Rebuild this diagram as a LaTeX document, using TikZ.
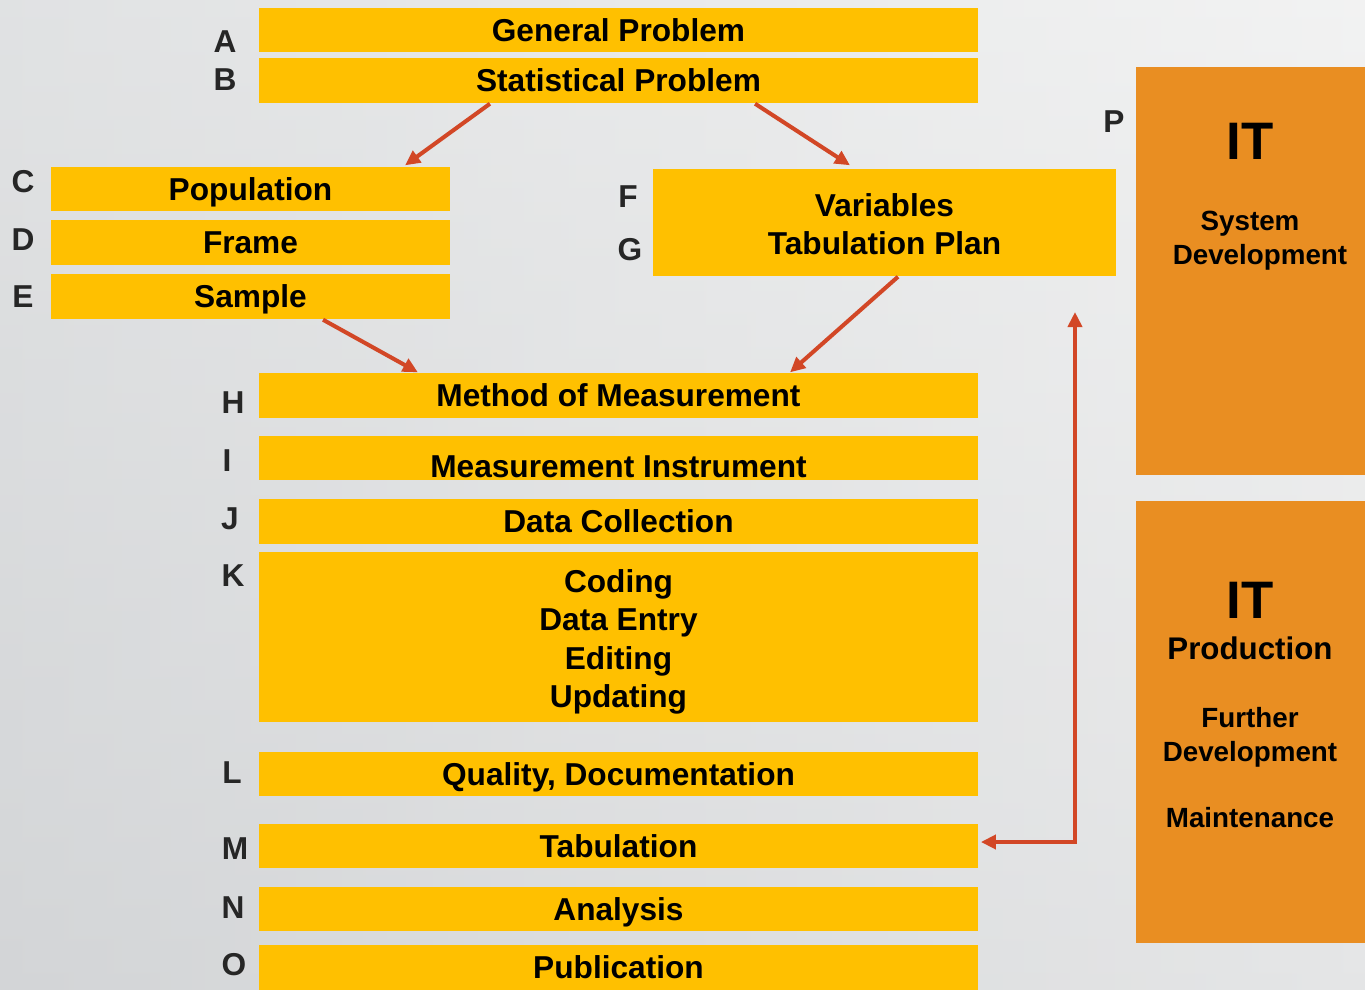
\documentclass[tikz,border=0pt]{standalone}
\usepackage{fontspec}
\setmainfont{Liberation Sans}
\usetikzlibrary{arrows.meta}
\definecolor{boxyellow}{HTML}{FFC000}
\definecolor{itorange}{HTML}{E98E22}
\definecolor{arrred}{HTML}{D24726}
\definecolor{lettergray}{HTML}{262626}
\begin{document}
\begin{tikzpicture}[x=0.01cm,y=-0.01cm,
  ybox/.style={fill=boxyellow, inner sep=0pt, text=black, align=center,
    font=\bfseries\fontsize{9}{10.9}\selectfont},
  one/.style={text height=6.6pt, text depth=0.1pt},
  itbox/.style={fill=itorange, inner sep=0pt, minimum width=2.29cm},
  ittext/.style={text=black, align=center, inner sep=0pt},
  letter/.style={text=lettergray, font=\bfseries\fontsize{9}{10.9}\selectfont, inner sep=0pt},
  arr/.style={draw=arrred, line width=1.15pt, -{Triangle[length=0.15cm,width=0.14cm]}},
  darr/.style={draw=arrred, line width=1.15pt, {Triangle[length=0.15cm,width=0.14cm]}-{Triangle[length=0.15cm,width=0.14cm]}}]
% background
\useasboundingbox (0,0) rectangle (1365,990);
\shade[top color={rgb,255:red,238;green,239;blue,239}, bottom color={rgb,255:red,208;green,210;blue,212}] (0,0) rectangle (1365,990);
\shade[left color={rgb,255:red,214;green,216;blue,218}, right color={rgb,255:red,246;green,246;blue,246}, opacity=0.55] (0,0) rectangle (1365,990);

% yellow boxes
\node[ybox, one, minimum width=7.19cm, minimum height=0.44cm] (A) at (618.5,30) {General Problem};
\node[ybox, one, minimum width=7.19cm, minimum height=0.45cm] (B) at (618.5,80.5) {Statistical Problem};
\node[ybox, one, minimum width=3.99cm, minimum height=0.44cm] (C) at (250.5,189) {Population};
\node[ybox, one, minimum width=3.99cm, minimum height=0.45cm] (D) at (250.5,242.5) {Frame};
\node[ybox, one, minimum width=3.99cm, minimum height=0.45cm] (E) at (250.5,296.5) {Sample};
\node[ybox, minimum width=4.63cm, minimum height=1.07cm] (FG) at (884.5,222.5) {};
\node[ybox, fill=none] (FGtext) at (884.5,224.5) {Variables\\Tabulation Plan};
\node[ybox, one, minimum width=7.19cm, minimum height=0.45cm] (H) at (618.5,395.5) {Method of Measurement};
\node[ybox, minimum width=7.19cm, minimum height=0.44cm] (I) at (618.5,458) {};
\node[ybox, one, fill=none] (Itext) at (618.5,466) {Measurement Instrument};
\node[ybox, one, minimum width=7.19cm, minimum height=0.45cm] (J) at (618.5,521.5) {Data Collection};
\node[ybox, minimum width=7.19cm, minimum height=1.70cm] (K) at (618.5,637) {};
\node[ybox, fill=none] (Ktext) at (618.5,642) {Coding\\Data Entry\\Editing\\Updating};
\node[ybox, one, minimum width=7.19cm, minimum height=0.44cm] (L) at (618.5,774) {Quality, Documentation};
\node[ybox, one, minimum width=7.19cm, minimum height=0.44cm] (M) at (618.5,846) {Tabulation};
\node[ybox, one, minimum width=7.19cm, minimum height=0.44cm] (N) at (618.5,909) {Analysis};
\node[ybox, one, minimum width=7.19cm, minimum height=0.45cm] (O) at (618.5,967.5) {Publication};

% IT boxes
\node[itbox, minimum height=4.08cm] (IT1) at (1250.5,271) {};
\node[ittext, font=\bfseries\fontsize{15}{18}\selectfont] (IT1a) at (1250,141) {IT};
\node[ittext, one, font=\bfseries\fontsize{7.9}{9.6}\selectfont] (IT1b) at (1250,219) {System};
\node[ittext, one, font=\bfseries\fontsize{7.9}{9.6}\selectfont] (IT1c) at (1260,253) {Development};

\node[itbox, minimum height=4.42cm] (IT2) at (1250.5,722) {};
\node[ittext, font=\bfseries\fontsize{15}{18}\selectfont] (IT2a) at (1250,600) {IT};
\node[ittext, font=\bfseries\fontsize{8.9}{10.7}\selectfont] (IT2b) at (1250,648) {Production};
\node[ittext, font=\bfseries\fontsize{7.9}{9.6}\selectfont] (IT2c) at (1250,737) {Further\\Development};
\node[ittext, font=\bfseries\fontsize{7.9}{9.6}\selectfont] (IT2d) at (1250,818) {Maintenance};

% letters
\node[letter] (lA) at (225,42) {A};
\node[letter] (lB) at (225,80) {B};
\node[letter] (lC) at (23,182) {C};
\node[letter] (lD) at (23,240) {D};
\node[letter] (lE) at (23,297) {E};
\node[letter] (lF) at (628,197) {F};
\node[letter] (lG) at (630,250) {G};
\node[letter] (lH) at (233,403) {H};
\node[letter] (lI) at (227,461) {I};
\node[letter] (lJ) at (230,519) {J};
\node[letter] (lK) at (233,576) {K};
\node[letter] (lL) at (232,773) {L};
\node[letter] (lM) at (235,849) {M};
\node[letter] (lN) at (233,908) {N};
\node[letter] (lO) at (234,965) {O};
\node[letter] (lP) at (1114,122) {P};

% arrows
\draw[arr] ([xshift=-1.285cm]B.south) -- ([xshift=1.545cm,yshift=0.01cm]C.north);
\draw[arr] ([xshift=1.365cm]B.south) -- ([xshift=-0.345cm,yshift=0.03cm]FG.north);
\draw[arr] ([xshift=0.725cm]E.south) -- ([xshift=-2.005cm]H.north);
\draw[arr] ([xshift=0.135cm]FG.south) -- ([xshift=1.715cm]H.north);
\coordinate (fb) at (1075,312);
\draw[darr] (fb) |- ([yshift=0.04cm,xshift=0.02cm]M.east);
\end{tikzpicture}
\end{document}
